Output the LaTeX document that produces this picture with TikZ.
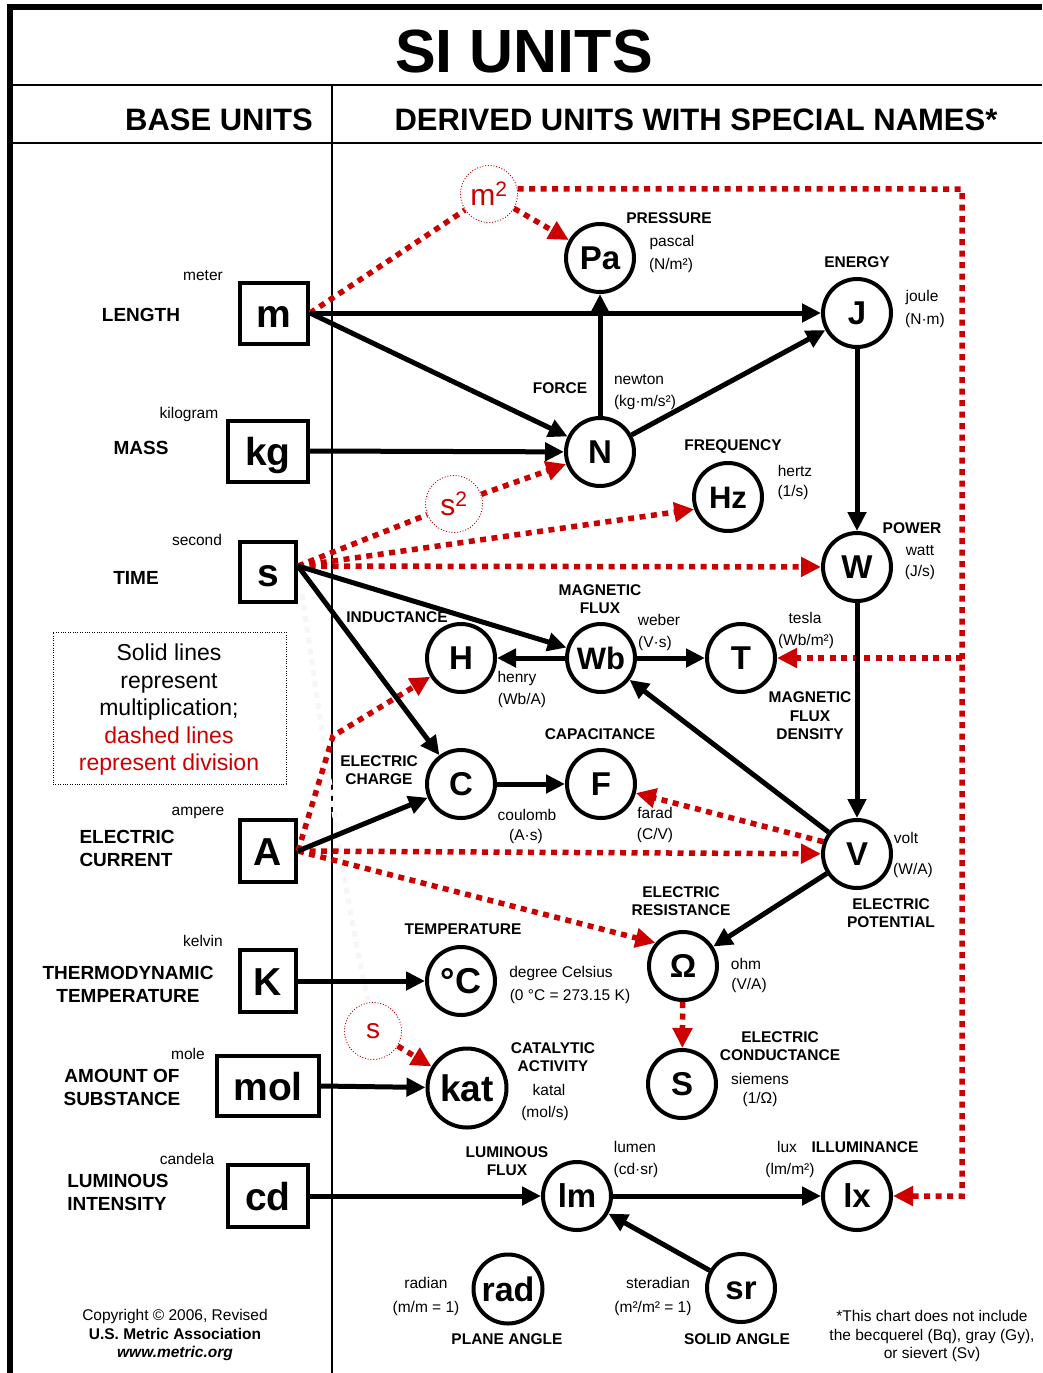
\documentclass[tikz,border=0pt]{standalone}
\usepackage{fontspec}
\setmainfont{Liberation Sans}
\usetikzlibrary{arrows.meta,calc}
\definecolor{divred}{RGB}{204,0,0}
\begin{document}
\begin{tikzpicture}[x=1pt,y=-1pt,
  every node/.style={inner sep=0pt},
  baseunit/.style={draw, line width=4pt, rectangle, outer sep=2pt, font=\fontsize{39}{40}\selectfont\bfseries, text height=28pt, text depth=0pt},
  dunit/.style={draw, line width=4pt, circle, outer sep=2pt, minimum size=68pt, font=\fontsize{33}{36}\selectfont\bfseries, text height=23.6pt, text depth=0pt},
  ghost/.style={draw=divred, line width=0.9pt, dash pattern=on 1pt off 1.8pt, circle, minimum size=57pt, text=divred, font=\fontsize{30}{30}\selectfont},
  qlab/.style={font=\fontsize{19}{23}\selectfont\bfseries, align=center},
  dlab/.style={font=\fontsize{15.5}{18.5}\selectfont\bfseries, align=center},
  ulab/.style={font=\fontsize{15.5}{18.5}\selectfont, align=center},
  mult/.style={line width=5pt, -{Triangle[length=19pt,width=18pt]}},
  divl/.style={draw=divred, line width=5.5pt, dash pattern=on 6pt off 5.5pt},
  diva/.style={divl, -{Triangle[length=20pt,width=19pt,fill=divred,color=divred]}},
  frame/.style={line width=1.2pt},
]
\useasboundingbox (0,0) rectangle (1042,1373);
% frame
\draw[line width=5.5pt] (10,1373) -- (10,7) -- (1042,7);
\draw[frame] (10,85) -- (1042,85);
\draw[frame] (10,143) -- (1042,143);
\draw[frame] (332,85) -- (332,1373);
% headers
\node[font=\fontsize{61}{61}\selectfont\bfseries, anchor=base] (title) at (524,72) {SI UNITS};
\node[font=\fontsize{31}{31}\selectfont\bfseries, anchor=base] (hbase) at (219,130) {BASE UNITS};
\node[font=\fontsize{31}{31}\selectfont\bfseries, anchor=base] (hder) at (696,130) {DERIVED UNITS WITH SPECIAL NAMES*};

% ghost path (very faint)
\draw[draw=black!3.5, line width=5pt, dash pattern=on 6pt off 5pt] (302,594) .. controls (325,750) and (345,900) .. (368,1000);

% base units
\node[baseunit, minimum width=68pt, minimum height=61pt] (bm) at (274,313) {m};
\node[baseunit, minimum width=80pt, minimum height=61pt] (bkg) at (268,451) {kg};
\node[baseunit, minimum width=56pt, minimum height=60pt] (bs) at (268,572) {s};
\node[baseunit, minimum width=56pt, minimum height=62pt] (bA) at (268,851) {A};
\node[baseunit, minimum width=56pt, minimum height=62pt] (bK) at (268,981) {K};
\node[baseunit, minimum width=102pt, minimum height=60pt] (bmol) at (268,1086) {mol};
\node[baseunit, minimum width=80pt, minimum height=62pt] (bcd) at (268,1196) {cd};

% base labels
\node[ulab] (lmeter) at (203,276) {meter};
\node[qlab] (llength) at (141,315) {LENGTH};
\node[ulab] (lkilogram) at (189,414) {kilogram};
\node[qlab] (lmass) at (141,448) {MASS};
\node[ulab] (lsecond) at (197,540) {second};
\node[qlab] (ltime) at (136,578) {TIME};
\node[ulab] (lampere) at (198,813) {ampere};
\node[qlab, align=left] (lcurrent) at (127,848) {ELECTRIC\\CURRENT};
\node[ulab] (lkelvin) at (203,941) {kelvin};
\node[qlab] (ltemp) at (128,984) {THERMODYNAMIC\\TEMPERATURE};
\node[ulab] (lmole) at (188,1054) {mole};
\node[qlab] (lamount) at (122,1087) {AMOUNT OF\\SUBSTANCE};
\node[ulab] (lcandela) at (187,1159) {candela};
\node[qlab, align=left] (llum) at (118,1192) {LUMINOUS\\INTENSITY};

% legend
\node[draw, line width=0.8pt, dash pattern=on 0.8pt off 1.6pt, minimum width=233pt, minimum height=152pt] (legbox) at (169.5,708) {};
\node[font=\fontsize{23}{27.5}\selectfont, align=center] (legend) at (169,710) {Solid lines\\represent\\multiplication;\\\textcolor{divred}{dashed lines}\\\textcolor{divred}{represent division}};

% copyright
\node[font=\fontsize{15.5}{18.5}\selectfont, align=center] (copy) at (175,1335) {Copyright © 2006, Revised\\{\bfseries U.S. Metric Association}\\{\bfseries\itshape www.metric.org}};

% derived units
\node[dunit] (Pa) at (600,258) {Pa};
\node[dunit] (J) at (857,313) {J};
\node[dunit] (N) at (600,452) {N};
\node[dunit, font=\fontsize{31}{36}\selectfont\bfseries, text height=22.2pt] (Hz) at (728,497) {Hz};
\node[dunit] (W) at (857,567) {W};
\node[dunit] (H) at (461,658) {H};
\node[dunit, font=\fontsize{31}{36}\selectfont\bfseries, text height=22.2pt] (Wb) at (601,658) {Wb};
\node[dunit] (T) at (741,658) {T};
\node[dunit] (C) at (461,784) {C};
\node[dunit] (F) at (601,784) {F};
\node[dunit] (V) at (857,854) {V};
\node[dunit] (Om) at (683,966) {Ω};
\node[dunit, font=\fontsize{36}{36}\selectfont\bfseries, text height=25.8pt] (degC) at (461,981) {°C};
\node[dunit] (Sie) at (682,1084) {S};
\node[dunit, minimum size=79pt, font=\fontsize{37}{37}\selectfont\bfseries, text height=26.5pt] (kat) at (467,1088) {kat};
\node[dunit] (lm) at (577,1196) {lm};
\node[dunit] (lx) at (857,1196) {lx};
\node[dunit, minimum size=69pt, font=\fontsize{34}{36}\selectfont\bfseries, text height=24.3pt] (rad) at (508,1289) {rad};
\node[dunit] (sr) at (741,1288) {sr};

% ghost (division) circles
\node[ghost] (gm2) at (489,194) {m\textsuperscript{2}};
\node[ghost] (gs2) at (454,504) {s\textsuperscript{2}};
\node[ghost, font=\fontsize{28}{28}\selectfont] (gs) at (373,1031) {s};

% derived labels
\node[dlab] (tPa) at (669,218) {PRESSURE};
\node[ulab] (tPa1) at (672,242) {pascal};
\node[ulab] (tPa2) at (671,265) {(N/m²)};
\node[dlab] (tJ) at (857,262) {ENERGY};
\node[ulab] (tJ1) at (922,297) {joule};
\node[ulab] (tJ2) at (925,320) {(N·m)};
\node[dlab] (tN) at (560,388) {FORCE};
\node[ulab] (tN1) at (639,380) {newton};
\node[ulab] (tN2) at (645,402) {(kg·m/s²)};
\node[dlab] (tHz) at (733,447) {FREQUENCY};
\node[ulab] (tHz1) at (795,471) {hertz};
\node[ulab] (tHz2) at (793,492) {(1/s)};
\node[dlab] (tW) at (912,528) {POWER};
\node[ulab] (tW1) at (920,551) {watt};
\node[ulab] (tW2) at (920,572) {(J/s)};
\node[dlab] (tWb) at (600,599) {MAGNETIC\\FLUX};
\node[ulab] (tWb1) at (659,620) {weber};
\node[ulab] (tWb2) at (655,643) {(V·s)};
\node[dlab] (tH) at (397,617) {INDUCTANCE};
\node[ulab] (tH1) at (517,678) {henry};
\node[ulab] (tH2) at (522,700) {(Wb/A)};
\node[ulab] (tT1) at (805,618) {tesla};
\node[ulab] (tT2) at (806,641) {(Wb/m²)};
\node[dlab] (tT) at (810,716) {MAGNETIC\\FLUX\\DENSITY};
\node[dlab] (tF) at (600,734) {CAPACITANCE};
\node[dlab] (tC) at (379,770) {ELECTRIC\\CHARGE};
\node[ulab] (tC1) at (527,815) {coulomb};
\node[ulab] (tC2) at (526,836) {(A·s)};
\node[ulab] (tF1) at (655,813) {farad};
\node[ulab] (tF2) at (655,835) {(C/V)};
\node[ulab] (tV1) at (906,838) {volt};
\node[ulab] (tV2) at (913,870) {(W/A)};
\node[dlab] (tV) at (891,913) {ELECTRIC\\POTENTIAL};
\node[dlab] (tOm) at (681,901) {ELECTRIC\\RESISTANCE};
\node[dlab] (tdegC) at (463,929) {TEMPERATURE};
\node[ulab] (tdegC1) at (561,973) {degree Celsius};
\node[ulab] (tdegC2) at (570,996) {(0 °C = 273.15 K)};
\node[ulab] (tOm1) at (746,964) {ohm};
\node[ulab] (tOm2) at (749,985) {(V/A)};
\node[dlab] (tkat) at (553,1057) {CATALYTIC\\ACTIVITY};
\node[ulab] (tkat1) at (549,1090) {katal};
\node[ulab] (tkat2) at (545,1113) {(mol/s)};
\node[dlab] (tSie) at (780,1046) {ELECTRIC\\CONDUCTANCE};
\node[ulab] (tSie1) at (760,1079) {siemens};
\node[ulab] (tSie2) at (760,1099) {(1/Ω)};
\node[dlab] (tlm) at (507,1161) {LUMINOUS\\FLUX};
\node[ulab] (tlm1) at (635,1147) {lumen};
\node[ulab] (tlm2) at (636,1170) {(cd·sr)};
\node[ulab] (tlx1) at (787,1147) {lux};
\node[dlab] (tlx) at (865,1147) {ILLUMINANCE};
\node[ulab] (tlx2) at (790,1170) {(lm/m²)};
\node[ulab] (trad1) at (426,1283) {radian};
\node[ulab] (trad2) at (426,1308) {(m/m = 1)};
\node[dlab] (trad) at (507,1339) {PLANE ANGLE};
\node[ulab] (tsr1) at (658,1283) {steradian};
\node[ulab] (tsr2) at (653,1308) {(m²/m² = 1)};
\node[dlab] (tsr) at (737,1339) {SOLID ANGLE};
\node[ulab] (foot) at (932,1336) {*This chart does not include\\the becquerel (Bq), gray (Gy),\\or sievert (Sv)};

% helper coordinates
\coordinate (sx) at ($(bs.east)+(0,-6)$);
\coordinate (rt) at (962,189);
\coordinate (tj) at (962,658);
\coordinate (rb) at (962,1196);
\coordinate (abend) at (333,736);

% division (red dotted) connectors
\draw[divl] (bm.east) -- (gm2);
\draw[diva] (gm2) -- (Pa);
\draw[diva] (gm2.10) -- (rt) -- (rb) -- (lx);
\draw[diva] (tj) -- (T);
\draw[divl] (sx) -- (gs2);
\draw[diva] (gs2) -- (N);
\draw[diva] (sx) -- (Hz.200);
\draw[diva] (sx) -- (W);
\draw[diva] (bA.east) -- (abend) -- (H);
\draw[diva] (bA.east) -- (V);
\draw[diva] (bA.east) -- (Om.140);
\draw[diva] (V.160) -- (F);
\draw[diva] (Om) -- (Sie);
\draw[diva] (gs) -- (kat);

% multiplication (solid) connectors
\draw[mult] (bm.east) -- (J);
\draw[mult] (bm.east) -- (N);
\draw[mult] (bkg.east) -- (N);
\draw[mult] (N) -- (Pa);
\draw[mult] (N) -- (J);
\draw[mult] (J) -- (W);
\draw[mult] (W) -- (V);
\draw[mult] (sx) -- (Wb);
\draw[mult] (sx) -- (C);
\draw[mult] (Wb) -- (H);
\draw[mult] (Wb) -- (T);
\draw[mult] (V) -- (Wb);
\draw[mult] (bA.east) -- (C);
\draw[mult] (C) -- (F);
\draw[mult] (V) -- (Om);
\draw[mult] (bK.east) -- (degC);
\draw[mult] (bmol.east) -- (kat);
\draw[mult] (bcd.east) -- (lm);
\draw[mult] (lm) -- (lx);
\draw[mult] (sr) -- (lm);
\end{tikzpicture}
\end{document}
